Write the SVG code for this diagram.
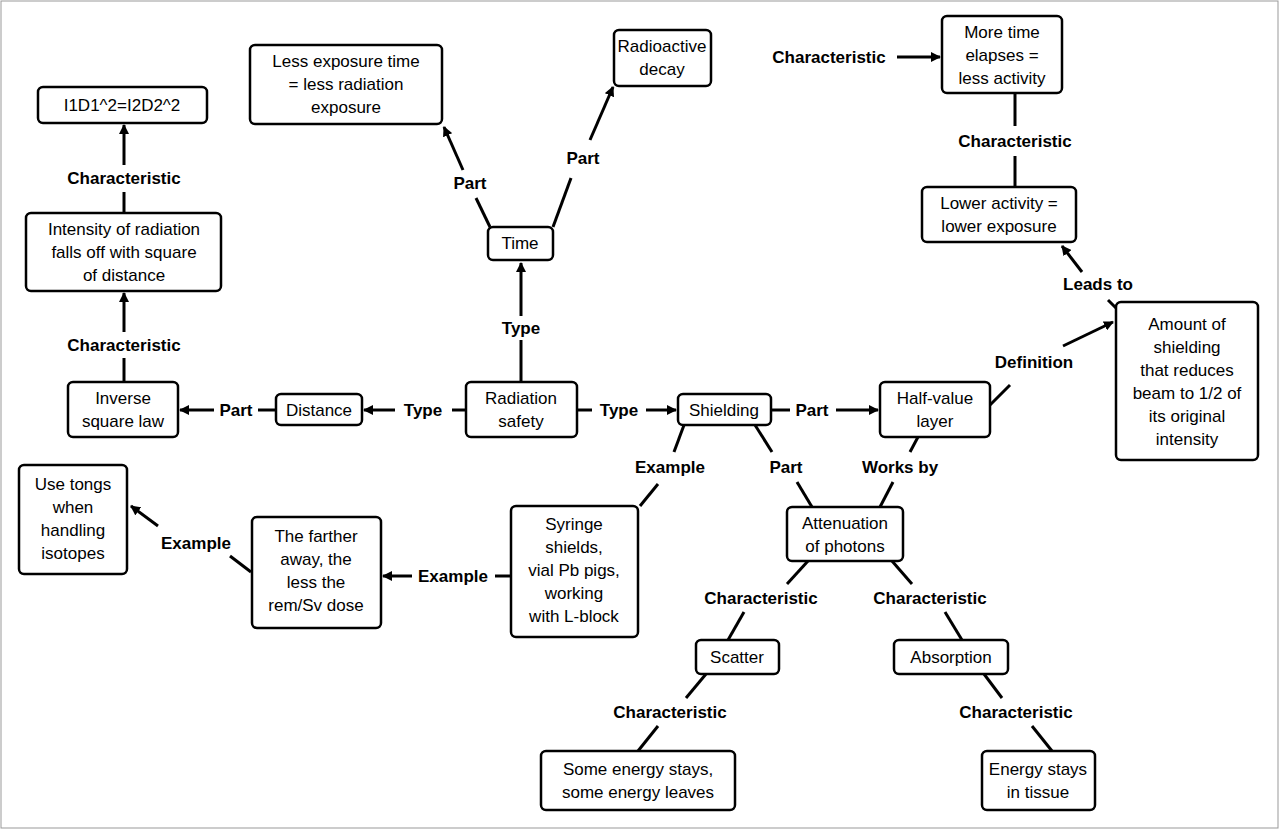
<svg xmlns="http://www.w3.org/2000/svg" width="1280" height="830" viewBox="0 0 1280 830">
<defs>
<marker id="ah" markerWidth="10" markerHeight="10" refX="9" refY="5" orient="auto" markerUnits="userSpaceOnUse" viewBox="0 0 10 10"><path d="M0,0 L10,5 L0,10 z" fill="#000"/></marker>
<style>
.n rect{fill:#fff;stroke:#000;stroke-width:2.5}
.n text,.l{font-family:"Liberation Sans",Arial,sans-serif;font-size:17px;text-anchor:middle}
.l{font-weight:bold}
.c line{stroke:#000;stroke-width:3}
.a{marker-end:url(#ah)}
</style>
</defs>
<rect x="1" y="1" width="1277" height="827" fill="#fff" stroke="#999" stroke-width="1"/>
<g class="c">
<line x1="521" y1="382" x2="521" y2="340"/><line class="a" x1="521" y1="316" x2="521" y2="263"/>
<line x1="490" y1="227" x2="476" y2="198"/><line class="a" x1="463" y1="170" x2="444" y2="127"/>
<line x1="553" y1="227" x2="571" y2="178"/><line class="a" x1="590" y1="140" x2="613" y2="87"/>
<line class="a" x1="897" y1="57" x2="940" y2="57"/>
<line x1="1015" y1="93" x2="1015" y2="126"/><line x1="1015" y1="156" x2="1015" y2="187"/>
<line class="a" x1="1082" y1="272" x2="1062" y2="246"/><line x1="1118" y1="310" x2="1108" y2="300"/>
<line x1="990" y1="405" x2="1010" y2="385"/><line class="a" x1="1063" y1="346" x2="1113" y2="322"/>
<line class="a" x1="395" y1="410" x2="364" y2="410"/><line x1="466" y1="410" x2="452" y2="410"/>
<line class="a" x1="214" y1="410" x2="180" y2="410"/><line x1="276" y1="410" x2="258" y2="410"/>
<line x1="124" y1="382" x2="124" y2="358"/><line class="a" x1="124" y1="332" x2="124" y2="293"/>
<line x1="124" y1="213" x2="124" y2="192"/><line class="a" x1="124" y1="165" x2="124" y2="125"/>
<line x1="577" y1="410" x2="592" y2="410"/><line class="a" x1="646" y1="410" x2="676" y2="410"/>
<line x1="771" y1="410" x2="790" y2="410"/><line class="a" x1="836" y1="410" x2="878" y2="410"/>
<line x1="684" y1="425" x2="674" y2="452"/><line x1="658" y1="484" x2="640" y2="506"/>
<line x1="755" y1="425" x2="772" y2="452"/><line x1="797" y1="482" x2="812" y2="507"/>
<line x1="918" y1="437" x2="910" y2="452"/><line x1="893" y1="482" x2="880" y2="507"/>
<line x1="511" y1="576" x2="495" y2="576"/><line class="a" x1="412" y1="576" x2="383" y2="576"/>
<line x1="251" y1="572" x2="230" y2="556"/><line class="a" x1="158" y1="526" x2="131" y2="506"/>
<line x1="808" y1="561" x2="787" y2="584"/><line x1="744" y1="612" x2="728" y2="640"/>
<line x1="892" y1="561" x2="912" y2="584"/><line x1="945" y1="612" x2="962" y2="640"/>
<line x1="706" y1="674" x2="686" y2="698"/><line x1="658" y1="726" x2="638" y2="751"/>
<line x1="984" y1="674" x2="1002" y2="698"/><line x1="1032" y1="726" x2="1052" y2="751"/>
</g>
<g>
<text class="l" x="521" y="334">Type</text>
<text class="l" x="470" y="189">Part</text>
<text class="l" x="583" y="164">Part</text>
<text class="l" x="829" y="63">Characteristic</text>
<text class="l" x="1015" y="147">Characteristic</text>
<text class="l" x="1098" y="290">Leads to</text>
<text class="l" x="1034" y="368">Definition</text>
<text class="l" x="423" y="416">Type</text>
<text class="l" x="236" y="416">Part</text>
<text class="l" x="124" y="351">Characteristic</text>
<text class="l" x="124" y="184">Characteristic</text>
<text class="l" x="619" y="416">Type</text>
<text class="l" x="812" y="416">Part</text>
<text class="l" x="670" y="473">Example</text>
<text class="l" x="786" y="473">Part</text>
<text class="l" x="900" y="473">Works by</text>
<text class="l" x="453" y="582">Example</text>
<text class="l" x="196" y="549">Example</text>
<text class="l" x="761" y="604">Characteristic</text>
<text class="l" x="930" y="604">Characteristic</text>
<text class="l" x="670" y="718">Characteristic</text>
<text class="l" x="1016" y="718">Characteristic</text>
</g>
<g id="n-formula" class="n"><rect x="38" y="87" width="169" height="36" rx="5"/><text x="122" y="111">I1D1^2=I2D2^2</text></g>
<g id="n-intensity" class="n"><rect x="26" y="213" width="195" height="78" rx="5"/><text x="124" y="235">Intensity of radiation</text><text x="124" y="258">falls off with square</text><text x="124" y="281">of distance</text></g>
<g id="n-inverse" class="n"><rect x="68" y="382" width="110" height="55" rx="5"/><text x="123" y="404">Inverse</text><text x="123" y="427">square law</text></g>
<g id="n-distance" class="n"><rect x="276" y="394" width="86" height="31" rx="5"/><text x="319" y="416">Distance</text></g>
<g id="n-safety" class="n"><rect x="466" y="382" width="111" height="55" rx="5"/><text x="521" y="404">Radiation</text><text x="521" y="427">safety</text></g>
<g id="n-time" class="n"><rect x="488" y="227" width="65" height="33" rx="5"/><text x="520" y="249">Time</text></g>
<g id="n-lessexp" class="n"><rect x="250" y="45" width="192" height="79" rx="5"/><text x="346" y="67">Less exposure time</text><text x="346" y="90">= less radiation</text><text x="346" y="113">exposure</text></g>
<g id="n-decay" class="n"><rect x="614" y="30" width="97" height="56" rx="5"/><text x="662" y="52">Radioactive</text><text x="662" y="75">decay</text></g>
<g id="n-moretime" class="n"><rect x="942" y="16" width="120" height="77" rx="5"/><text x="1002" y="38">More time</text><text x="1002" y="61">elapses =</text><text x="1002" y="84">less activity</text></g>
<g id="n-lower" class="n"><rect x="922" y="187" width="154" height="55" rx="5"/><text x="999" y="209">Lower activity =</text><text x="999" y="232">lower exposure</text></g>
<g id="n-amount" class="n"><rect x="1116" y="302" width="142" height="158" rx="5"/><text x="1187" y="330">Amount of</text><text x="1187" y="353">shielding</text><text x="1187" y="376">that reduces</text><text x="1187" y="399">beam to 1/2 of</text><text x="1187" y="422">its original</text><text x="1187" y="445">intensity</text></g>
<g id="n-hvl" class="n"><rect x="880" y="382" width="110" height="55" rx="5"/><text x="935" y="404">Half-value</text><text x="935" y="427">layer</text></g>
<g id="n-shielding" class="n"><rect x="678" y="394" width="93" height="31" rx="5"/><text x="724" y="416">Shielding</text></g>
<g id="n-tongs" class="n"><rect x="19" y="465" width="108" height="109" rx="5"/><text x="73" y="490">Use tongs</text><text x="73" y="513">when</text><text x="73" y="536">handling</text><text x="73" y="559">isotopes</text></g>
<g id="n-farther" class="n"><rect x="252" y="517" width="129" height="111" rx="5"/><text x="316" y="542">The farther</text><text x="316" y="565">away, the</text><text x="316" y="588">less the</text><text x="316" y="611">rem/Sv dose</text></g>
<g id="n-syringe" class="n"><rect x="511" y="506" width="127" height="131" rx="5"/><text x="574" y="530">Syringe</text><text x="574" y="553">shields,</text><text x="574" y="576">vial Pb pigs,</text><text x="574" y="599">working</text><text x="574" y="622">with L-block</text></g>
<g id="n-atten" class="n"><rect x="787" y="507" width="116" height="54" rx="5"/><text x="845" y="529">Attenuation</text><text x="845" y="552">of photons</text></g>
<g id="n-scatter" class="n"><rect x="696" y="640" width="83" height="34" rx="5"/><text x="737" y="663">Scatter</text></g>
<g id="n-absorption" class="n"><rect x="894" y="640" width="114" height="34" rx="5"/><text x="951" y="663">Absorption</text></g>
<g id="n-some" class="n"><rect x="541" y="751" width="194" height="59" rx="5"/><text x="638" y="775">Some energy stays,</text><text x="638" y="798">some energy leaves</text></g>
<g id="n-energy" class="n"><rect x="982" y="751" width="113" height="59" rx="5"/><text x="1038" y="775">Energy stays</text><text x="1038" y="798">in tissue</text></g>
</svg>
